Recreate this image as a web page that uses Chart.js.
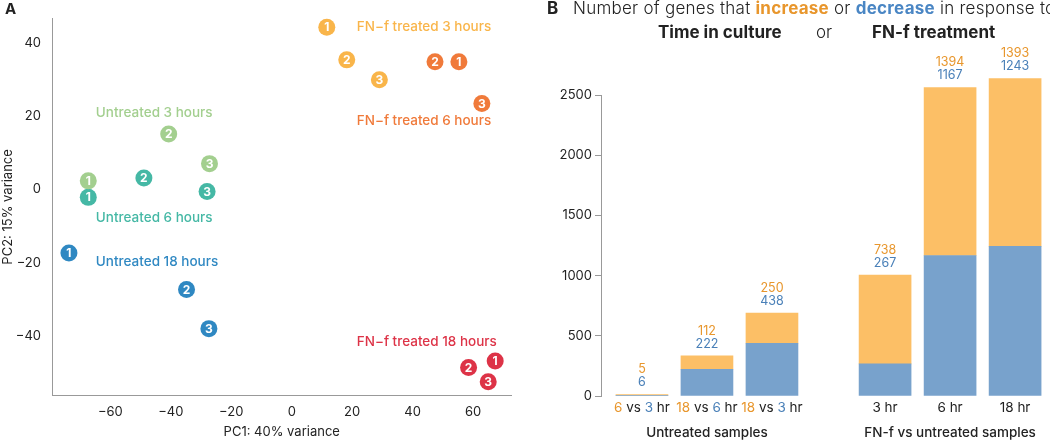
<!DOCTYPE html>
<html>
<head>
<meta charset="utf-8">
<script src="https://cdn.jsdelivr.net/npm/chart.js@4.4.1/dist/chart.umd.min.js"></script>
<style>
  body { margin: 0; background: #fff; font-family: Inter, sans-serif; color: #222; }
  #wrap { position: relative; width: 1050px; height: 441px; overflow: hidden; }
  canvas { position: absolute; top: 0; }
  .t { position: absolute; white-space: nowrap; line-height: 1; }
  .inc { color: #e8962c; font-weight: 700; }
  .dec { color: #4a86c4; font-weight: 700; }
</style>
</head>
<body>
<div id="wrap">
  <canvas id="pca" width="520" height="441" style="left:0"></canvas>
  <canvas id="genes" width="530" height="441" style="left:520px"></canvas>
  <div class="t" style="left:5px;top:1px;font-size:15px;font-weight:700">A</div>
  <div class="t" style="left:547px;top:0px;font-size:17px;font-weight:700">B</div>
  <div class="t" style="left:573px;top:0px;font-size:17px;font-weight:300;letter-spacing:0.25px">Number of genes that <span class="inc">increase</span> or <span class="dec">decrease</span> in response to</div>
  <div class="t" style="left:658px;top:24px;font-size:17px;font-weight:700">Time in culture</div>
  <div class="t" style="left:816px;top:24px;font-size:17px;font-weight:300">or</div>
  <div class="t" style="left:872px;top:24px;font-size:17px;font-weight:700">FN-f treatment</div>
</div>
<script>
// ---- Panel A: PCA ----
const groupNames = ['Untreated 3 hours', 'Untreated 6 hours', 'Untreated 18 hours',
    'FN\u2212f treated 3 hours', 'FN\u2212f treated 6 hours', 'FN\u2212f treated 18 hours'];
const groupColors = ['#a3cf8f', '#45b8a5', '#2f88c2', '#f9b54a', '#f07a3a', '#dd3347'];
const pc1 = [
    [-67.3, -40.7, -27.2],
    [-67.3, -48.9, -28.0],
    [-73.7, -34.8, -27.4],
    [11.6, 18.2, 29.0],
    [55.3, 47.4, 62.9],
    [67.3, 58.5, 65.0]
];
const pc2 = [
    [2.3, 15.1, 7.0],
    [-2.2, 3.1, -0.6],
    [-17.4, -27.3, -38.0],
    [44.2, 35.3, 29.9],
    [34.8, 34.8, 23.4],
    [-46.8, -48.6, -52.5]
];
// where each group's name sits (data units, left edge)
const groupLabelAt = [[-64.8, 20.8], [-64.8, -7.8], [-64.8, -19.7], [21.5, 44.2], [21.5, 18.7], [21.5, -41.6]];

// ---- Panel B: gene counts ----
const untreatedLabels = ['6 vs 3 hr', '18 vs 6 hr', '18 vs 3 hr'];
const untreatedUp = [5, 112, 250];
const untreatedDown = [6, 222, 438];
const fnfLabels = ['3 hr', '6 hr', '18 hr'];
const fnfUp = [738, 1394, 1393];
const fnfDown = [267, 1167, 1243];
const countTicks = [0, 500, 1000, 1500, 2000, 2500];

const ORANGE_TXT = '#e8962c';
const BLUE_TXT = '#4a80b8';
const DARK = '#222';

Chart.defaults.font.family = 'Inter, sans-serif';
Chart.defaults.color = DARK;

const minus = v => (v < 0 ? '\u2212' + Math.abs(v) : '' + v);

const pcaLabels = {
    id: 'pcaLabels',
    afterDatasetsDraw(chart) {
        const ctx = chart.ctx;
        const xs = chart.scales.x, ys = chart.scales.y;
        ctx.save();
        ctx.textBaseline = 'middle';
        chart.data.datasets.forEach((ds, d) => {
            const meta = chart.getDatasetMeta(d);
            ctx.fillStyle = '#fff';
            ctx.textAlign = 'center';
            ctx.font = '700 12px Inter, sans-serif';
            meta.data.forEach((pt, i) => {
                ctx.fillText(String(i + 1), pt.x, pt.y + 0.5);
            });
            ctx.fillStyle = ds.backgroundColor;
            ctx.textAlign = 'left';
            ctx.font = '500 13.5px Inter, sans-serif';
            const at = groupLabelAt[d];
            ctx.fillText(groupNames[d], xs.getPixelForValue(at[0]), ys.getPixelForValue(at[1]));
        });
        ctx.restore();
    }
};

new Chart(document.getElementById('pca'), {
    type: 'scatter',
    data: {
        datasets: groupNames.map((name, g) => ({
            label: name,
            data: pc1[g].map((x, i) => ({ x: x, y: pc2[g][i] })),
            backgroundColor: groupColors[g],
            borderWidth: 0,
            pointRadius: 8.5,
            clip: false
        }))
    },
    options: {
        responsive: false,
        animation: false,
        layout: { padding: { left: 0, top: 0, right: 8, bottom: 0 } },
        plugins: { legend: { display: false }, tooltip: { enabled: false } },
        scales: {
            x: {
                type: 'linear',
                min: -79.3,
                max: 72.7,
                afterFit: s => { s.height = 46; },
                grid: { display: false, drawTicks: false },
                border: { color: '#999', width: 1 },
                ticks: { stepSize: 20, includeBounds: false, padding: 9, font: { size: 13 }, callback: minus },
                title: { display: true, text: 'PC1: 40% variance', font: { size: 13 }, padding: { top: 0, bottom: 1 } }
            },
            y: {
                min: -56.1,
                max: 46.5,
                afterFit: s => { s.width = 52; },
                grid: { display: false, drawTicks: false },
                border: { color: '#999', width: 1 },
                ticks: { stepSize: 20, includeBounds: false, padding: 11, font: { size: 13 }, callback: minus },
                title: { display: true, text: 'PC2: 15% variance', font: { size: 13 }, padding: 0 }
            }
        }
    },
    plugins: [pcaLabels]
});

// ---- bar chart ----
const groupGap = 0.74;
const barLabels = untreatedLabels.concat(fnfLabels);
const upAll = untreatedUp.concat(fnfUp);
const downAll = untreatedDown.concat(fnfDown);
const slotOf = i => (i < untreatedLabels.length ? i : i + groupGap);

const geneLabels = {
    id: 'geneLabels',
    afterDatasetsDraw(chart) {
        const ctx = chart.ctx;
        const xs = chart.scales.x;
        const topMeta = chart.getDatasetMeta(1);
        ctx.save();
        ctx.textBaseline = 'middle';
        ctx.textAlign = 'center';
        // counts above each bar
        ctx.font = '400 12.5px Inter, sans-serif';
        topMeta.data.forEach((bar, i) => {
            ctx.fillStyle = BLUE_TXT;
            ctx.fillText(String(downAll[i]), bar.x, bar.y - 12);
            ctx.fillStyle = ORANGE_TXT;
            ctx.fillText(String(upAll[i]), bar.x, bar.y - 25);
        });
        // category labels with coloured hours
        ctx.font = '400 13.5px Inter, sans-serif';
        const labelY = 408;
        barLabels.forEach((lab, i) => {
            let parts;
            if (lab.indexOf(' vs ') >= 0) {
                const a = lab.split(' vs ');
                const b = a[1].split(' ');
                parts = [[a[0], ORANGE_TXT], [' vs ', DARK], [b[0], BLUE_TXT], [' ' + b[1], DARK]];
            } else {
                parts = [[lab, DARK]];
            }
            const w = parts.reduce((s, p) => s + ctx.measureText(p[0]).width, 0);
            let x = xs.getPixelForValue(slotOf(i)) - w / 2;
            ctx.textAlign = 'left';
            parts.forEach(p => {
                ctx.fillStyle = p[1];
                ctx.fillText(p[0], x, labelY);
                x += ctx.measureText(p[0]).width;
            });
        });
        // group titles
        ctx.textAlign = 'center';
        ctx.fillStyle = DARK;
        ctx.font = '500 13.5px Inter, sans-serif';
        const mid = (a, b) => (xs.getPixelForValue(slotOf(a)) + xs.getPixelForValue(slotOf(b))) / 2;
        ctx.fillText('Untreated samples', mid(0, 2), 433);
        ctx.fillText('FN-f vs untreated samples', mid(3, 5), 433);
        ctx.restore();
    }
};

new Chart(document.getElementById('genes'), {
    type: 'bar',
    data: {
        datasets: [
            {
                label: 'decrease',
                data: downAll.map((v, i) => ({ x: slotOf(i), y: v })),
                backgroundColor: '#78a2cc',
                barThickness: 52,
                clip: false
            },
            {
                label: 'increase',
                data: upAll.map((v, i) => ({ x: slotOf(i), y: v })),
                backgroundColor: '#fcbf66',
                barThickness: 52,
                clip: false
            }
        ]
    },
    options: {
        responsive: false,
        animation: false,
        layout: { padding: { left: 0, top: 95, right: 5, bottom: 45 } },
        plugins: { legend: { display: false }, tooltip: { enabled: false } },
        scales: {
            x: {
                type: 'linear',
                display: false,
                offset: false,
                stacked: true,
                min: -0.63,
                max: 6.2
            },
            y: {
                stacked: true,
                min: 0,
                max: 2500,
                afterFit: s => { s.width = 81; },
                afterBuildTicks: s => { s.ticks = countTicks.map(v => ({ value: v })); },
                grid: { drawOnChartArea: false, drawTicks: true, tickLength: 6, color: '#999' },
                border: { color: '#999', width: 1 },
                ticks: { padding: 3, font: { size: 13 }, callback: v => String(v) }
            }
        }
    },
    plugins: [geneLabels]
});
</script>
</body>
</html>
